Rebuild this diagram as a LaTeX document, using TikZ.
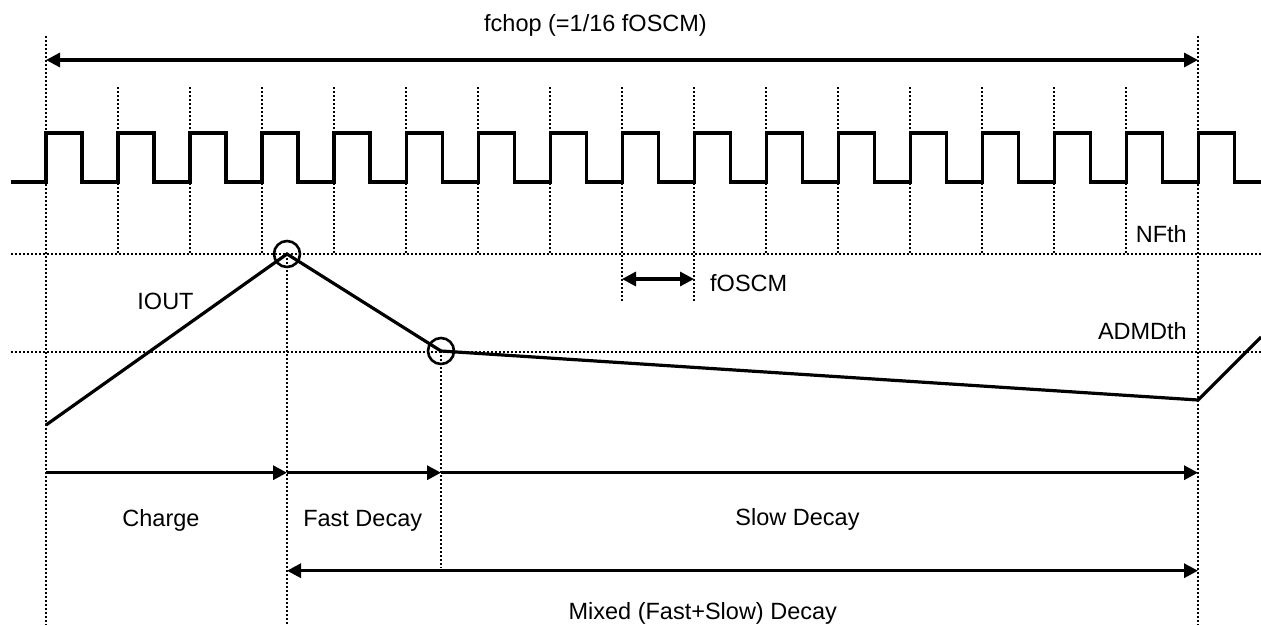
\documentclass[tikz,border=0pt]{standalone}
\usepackage{fontspec}
\setmainfont{Liberation Sans}
\usetikzlibrary{arrows.meta}
\begin{document}
\begin{tikzpicture}[x=1pt,y=-1pt,
  dotline/.style={line width=2pt, dash pattern=on 2pt off 2pt},
  sig/.style={line width=3.2pt, line join=miter},
  dimboth/.style={line width=3.2pt, {Triangle[length=14pt,width=14pt]}-{Triangle[length=14pt,width=14pt]}},
  dimto/.style={line width=3.2pt, -{Triangle[length=14pt,width=14pt]}},
  ring/.style={circle, draw, line width=2.6pt, minimum size=26pt, inner sep=0pt},
  lbl/.style={font=\fontsize{23.5}{28}\selectfont, inner sep=0pt}]
\useasboundingbox (0,0) rectangle (1261,625);
% key coordinates
\coordinate (tL) at (46,36);   \coordinate (bL) at (46,625);
\coordinate (tR) at (1198,36); \coordinate (bR) at (1198,625);
\coordinate (nfL) at (11,254); \coordinate (nfR) at (1261,254);
\coordinate (adL) at (11,351.5); \coordinate (adR) at (1261,351.5);
% threshold dotted lines
\draw[dotline] (nfL) -- (nfR);
\draw[dotline] (adL) -- (adR);
% main dotted verticals
\draw[dotline] (tL) -- (bL);
\draw[dotline] (tR) -- (bR);
\foreach \k in {1,...,15}{
  \pgfmathsetmacro{\xx}{46+72.02*\k}
  \ifnum\k=8 \def\yy{302}\else\ifnum\k=9 \def\yy{302}\else\def\yy{254}\fi\fi
  \draw[dotline] (\xx,87) -- (\xx,\yy);
}
% clock waveform
\draw[sig] (11,182) foreach \k in {0,...,16}{
  -- ({46+72.02*\k},182) -- ({46+72.02*\k},133) -- ({82+72.02*\k},133) -- ({82+72.02*\k},182)
} -- (1261,182);
% IOUT waveform
\node[ring] (pk) at (287,254) {};
\node[ring] (vl) at (441,351) {};
\coordinate (i0) at (46,425);
\coordinate (i3) at (1198,400);
\coordinate (i4) at (1261,337);
\draw[dotline] (pk.center) -- (287,625);
\draw[dotline] (vl.center) -- (441,568);
\draw[sig] (i0) -- (pk.center) -- (vl.center) -- (i3) -- (i4);
% dimension arrows
\coordinate (aT1) at (46,60); \coordinate (aT2) at (1198,60);
\draw[dimboth] (aT1) -- (aT2);
\coordinate (f1) at (622,279); \coordinate (f2) at (694,279);
\draw[dimboth] (f1) -- (f2);
\coordinate (p0) at (46,472.7); \coordinate (p1) at (287,472.7);
\coordinate (p2) at (441,472.7); \coordinate (p3) at (1198,472.7);
\draw[dimto] (p0) -- (p1);
\draw[dimto] (p1) -- (p2);
\draw[dimto] (p2) -- (p3);
\coordinate (m1) at (287,570.7); \coordinate (m2) at (1198,570.7);
\draw[dimboth] (m1) -- (m2);
% labels
\node[lbl, anchor=base] (tfchop) at (595.5,31.5) {fchop (=1/16 fOSCM)};
\node[lbl, anchor=base] (tiout) at (165.5,309) {IOUT};
\node[lbl, anchor=base east] (tnf) at (1187,242) {NFth};
\node[lbl, anchor=base east] (tad) at (1187,339) {ADMDth};
\node[lbl, anchor=base west] (tfo) at (710,291) {fOSCM};
\node[lbl, anchor=base] (tch) at (161,526) {Charge};
\node[lbl, anchor=base] (tfd) at (362.7,526) {Fast Decay};
\node[lbl, anchor=base] (tsd) at (797.5,525.5) {Slow Decay};
\node[lbl, anchor=base] (tmx) at (702.8,619) {Mixed (Fast+Slow) Decay};
\end{tikzpicture}
\end{document}
